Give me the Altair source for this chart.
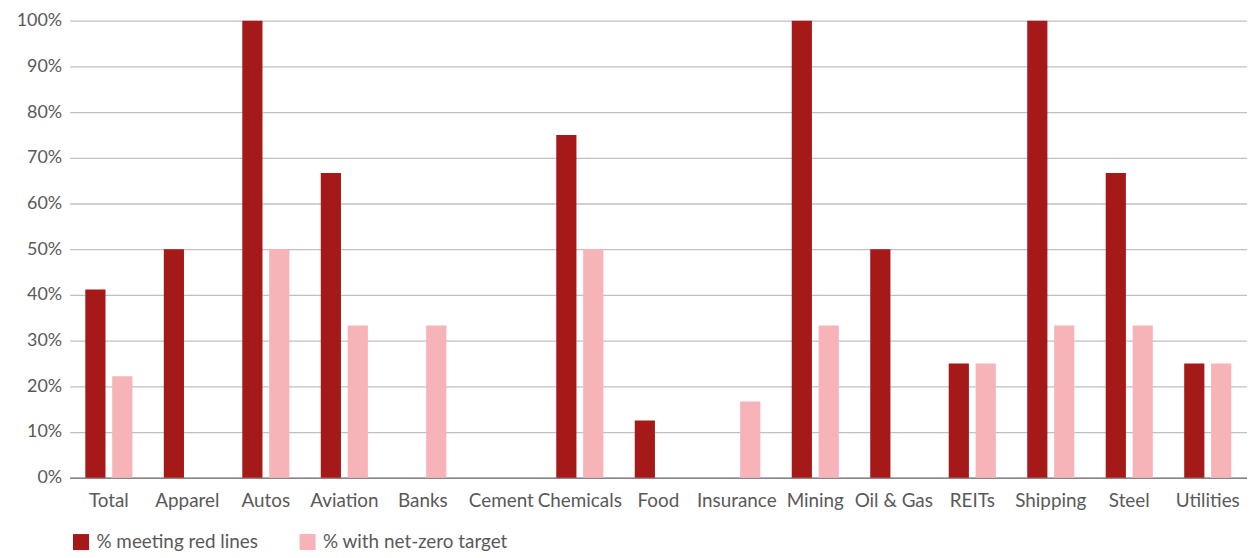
import altair as alt
import pandas as pd

categories = ["Total", "Apparel", "Autos", "Aviation", "Banks", "Cement", "Chemicals",
              "Food", "Insurance", "Mining", "Oil & Gas", "REITs", "Shipping", "Steel", "Utilities"]
red_lines = [41.2, 50, 100, 66.7, 0, 0, 75, 12.5, 0, 100, 50, 25, 100, 66.7, 25]
net_zero = [22.2, 0, 50, 33.3, 33.3, 0, 50, 0, 16.7, 33.3, 0, 25, 33.3, 33.3, 25]
series = ["% meeting red lines", "% with net-zero target"]
colors = ["#A51919", "#F6B3B8"]

rows = []
for c, a, b in zip(categories, red_lines, net_zero):
    rows.append({"category": c, "series": series[0], "value": a / 100})
    rows.append({"category": c, "series": series[1], "value": b / 100})
df = pd.DataFrame(rows)

FONT = "Lato"

chart = alt.Chart(df).mark_bar().encode(
    x=alt.X("category:N", sort=categories, title=None,
            scale=alt.Scale(paddingInner=0.4, paddingOuter=0.2),
            axis=alt.Axis(labelAngle=0, labelFontSize=19, labelColor="#595959", labelFont=FONT,
                          ticks=False, domainColor="#868686", domainWidth=1.5, labelPadding=14,
                          grid=False, labelLimit=0)),
    xOffset=alt.XOffset("series:N", sort=series, scale=alt.Scale(paddingInner=0.25, paddingOuter=0)),
    y=alt.Y("value:Q", title=None,
            scale=alt.Scale(domain=[0, 1], nice=False),
            axis=alt.Axis(format=".0%", values=[i / 10 for i in range(11)], labelFontSize=18,
                          labelColor="#595959", labelFont=FONT, ticks=False, domain=False,
                          gridColor="#C0C0C0", gridWidth=1.3, labelPadding=8)),
    color=alt.Color("series:N", sort=series, scale=alt.Scale(domain=series, range=colors),
                    legend=alt.Legend(title=None, orient="none", legendX=2, legendY=515,
                                      direction="horizontal", symbolType="square", symbolSize=260,
                                      symbolStrokeWidth=0, labelFontSize=19, labelFont=FONT,
                                      labelColor="#595959", columnPadding=40, labelOffset=6,
                                      labelLimit=0)),
).properties(
    width=1185, height=460,
    padding={"left": 8, "top": 2, "right": 0, "bottom": 0}
).configure_view(stroke=None)

chart.save("out.html", embed_options={"renderer": "svg", "actions": False})
